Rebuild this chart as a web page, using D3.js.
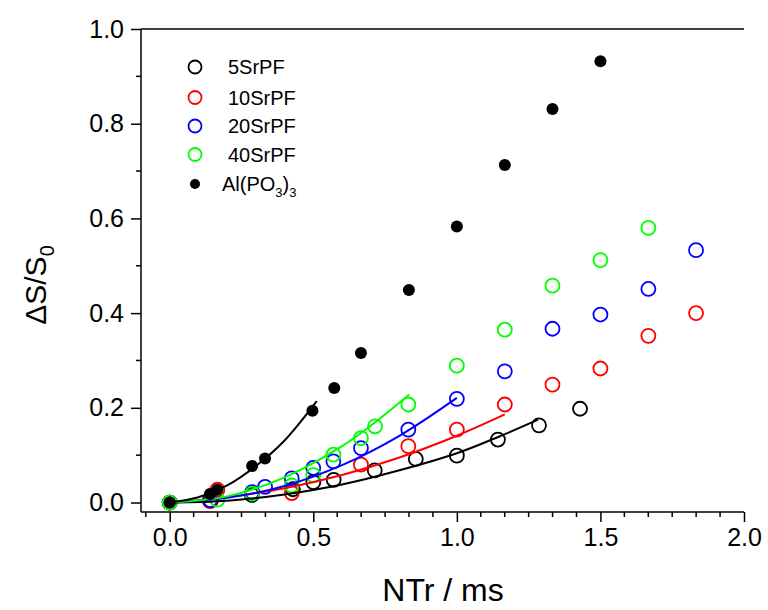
<!DOCTYPE html>
<html><head><meta charset="utf-8">
<script src="https://cdn.jsdelivr.net/npm/d3@7"></script>
<style>body{margin:0;background:#fff}svg{display:block;font-family:Arial,"Liberation Sans",sans-serif}</style>
</head><body>
<svg id="c" width="768" height="610"></svg>
<script>
// ---- data ----
const seriesNames = ["5SrPF", "10SrPF", "20SrPF", "40SrPF", "Al(PO3)3"];
const seriesColors = ["#000000", "#ff0000", "#0000ff", "#00ff00", "#000000"];

const s5x = [0, 0.143, 0.286, 0.429, 0.5, 0.571, 0.714, 0.857, 1.0, 1.143, 1.286, 1.429];
const s5y = [0, 0.004, 0.016, 0.028, 0.043, 0.048, 0.068, 0.092, 0.099, 0.133, 0.163, 0.198];

const s10x = [0, 0.14, 0.166, 0.425, 0.666, 0.831, 1.0, 1.167, 1.333, 1.5, 1.667, 1.833];
const s10y = [0, 0.003, 0.027, 0.020, 0.080, 0.119, 0.154, 0.207, 0.249, 0.283, 0.352, 0.400];

const s20x = [0, 0.14, 0.287, 0.332, 0.425, 0.5, 0.57, 0.666, 0.831, 1.0, 1.167, 1.333, 1.5, 1.667, 1.833];
const s20y = [0, 0.005, 0.022, 0.033, 0.051, 0.073, 0.087, 0.115, 0.154, 0.219, 0.277, 0.367, 0.397, 0.451, 0.533];

const s40x = [0, 0.166, 0.287, 0.425, 0.5, 0.57, 0.666, 0.715, 0.831, 1.0, 1.167, 1.333, 1.5, 1.667];
const s40y = [0, 0.006, 0.019, 0.036, 0.058, 0.101, 0.136, 0.161, 0.207, 0.289, 0.365, 0.458, 0.512, 0.580];

const alx = [0, 0.14, 0.166, 0.287, 0.332, 0.497, 0.573, 0.666, 0.833, 1.0, 1.167, 1.333, 1.5];
const aly = [0, 0.018, 0.027, 0.077, 0.093, 0.194, 0.242, 0.316, 0.449, 0.583, 0.713, 0.831, 0.932];

// fit curves
const fit5x = [0, 0.2, 0.4, 0.6, 0.8, 1.0, 1.15, 1.283];
const fit5y = [0, 0.004, 0.017, 0.038, 0.068, 0.104, 0.140, 0.175];
const fit10x = [0, 0.2, 0.4, 0.6, 0.8, 1.0, 1.167];
const fit10y = [0, 0.011, 0.030, 0.058, 0.095, 0.141, 0.186];
const fit20x = [0, 0.2, 0.4, 0.6, 0.8, 1.0];
const fit20y = [0, 0.010, 0.035, 0.079, 0.141, 0.221];
const fit40x = [0, 0.2, 0.4, 0.6, 0.7, 0.834];
const fit40y = [0, 0.013, 0.053, 0.119, 0.162, 0.228];
const fitAlx = [0, 0.1, 0.2, 0.3, 0.4, 0.512];
const fitAly = [0, 0.011, 0.036, 0.077, 0.131, 0.214];

const xTicks = [0, 0.5, 1.0, 1.5, 2.0];
const yTicks = [0, 0.2, 0.4, 0.6, 0.8, 1.0];

// ---- drawing ----
const svg = d3.select("#c");
const x = d3.scaleLinear().domain([-0.1, 2.0]).range([141, 744]);
const y = d3.scaleLinear().domain([-0.02, 1.0]).range([512, 29]);

const zip = (a, b) => a.map((v, i) => [v, b[i]]);
const line = d3.line().x(d => x(d[0])).y(d => y(d[1])).curve(d3.curveCatmullRom);

const fits = [
  [fit5x, fit5y, 0], [fit10x, fit10y, 1], [fit20x, fit20y, 2], [fit40x, fit40y, 3]
];
const pts = [[s5x, s5y, 0], [s10x, s10y, 1], [s20x, s20y, 2], [s40x, s40y, 3]];

// open circles
pts.forEach(([xs, ys, k]) => {
  svg.append("g").selectAll("circle").data(zip(xs, ys)).join("circle")
    .attr("cx", d => x(d[0])).attr("cy", d => y(d[1])).attr("r", 7)
    .attr("fill", "none").attr("stroke", seriesColors[k]).attr("stroke-width", 1.8);
});
// fit lines
fits.forEach(([xs, ys, k]) => {
  svg.append("path").attr("d", line(zip(xs, ys))).attr("fill", "none")
    .attr("stroke", seriesColors[k]).attr("stroke-width", 2);
});
svg.append("path").attr("d", line(zip(fitAlx, fitAly))).attr("fill", "none")
  .attr("stroke", "#000").attr("stroke-width", 2);
// filled dots
svg.append("g").selectAll("circle").data(zip(alx, aly)).join("circle")
  .attr("cx", d => x(d[0])).attr("cy", d => y(d[1])).attr("r", 6).attr("fill", "#000");

// axes
const xAxis = svg.append("g").attr("transform", `translate(0,${y(-0.02)})`)
  .call(d3.axisBottom(x).tickValues(xTicks).tickFormat(d3.format(".1f")).tickSize(10).tickPadding(6));
const xMinor = d3.range(-1, 25).map(i => i / 12).filter(v => v >= -0.1 && v <= 2.0 && Math.abs(v * 2 - Math.round(v * 2)) > 1e-6);
xAxis.selectAll(".minor").data(xMinor).join("line").attr("class", "minor")
  .attr("x1", d => x(d)).attr("x2", d => x(d)).attr("y1", 0).attr("y2", 5).attr("stroke", "#000").attr("stroke-width", 1.5);

const yAxis = svg.append("g").attr("transform", `translate(${x(-0.1)},0)`)
  .call(d3.axisLeft(y).tickValues(yTicks).tickFormat(d3.format(".1f")).tickSize(10).tickPadding(7));
const yMinor = [0.1, 0.3, 0.5, 0.7, 0.9];
yAxis.selectAll(".minor").data(yMinor).join("line").attr("class", "minor")
  .attr("y1", d => y(d)).attr("y2", d => y(d)).attr("x1", 0).attr("x2", -5).attr("stroke", "#000").attr("stroke-width", 1.5);

[xAxis, yAxis].forEach(g => {
  g.selectAll(".domain").attr("stroke", "#000").attr("stroke-width", 1.5)
    .attr("d", g === xAxis ? `M${x(-0.1)},0H${x(2.0)}` : `M0,${y(-0.02)}V${y(1.0)}`);
  g.selectAll(".tick line").attr("stroke", "#000").attr("stroke-width", 1.5);
  g.selectAll(".tick text").attr("font-size", 25).attr("fill", "#000")
    .attr("font-family", "Arial, 'Liberation Sans', sans-serif");
});
// top border
svg.append("line").attr("x1", x(-0.1)).attr("x2", x(2.0)).attr("y1", y(1.0)).attr("y2", y(1.0))
  .attr("stroke", "#000").attr("stroke-width", 1.5);

// axis titles
svg.append("text").attr("x", 443).attr("y", 601).attr("text-anchor", "middle")
  .attr("font-size", 32).text("NTr / ms");
const yt = svg.append("text").attr("transform", "translate(46,285) rotate(-90)").attr("text-anchor", "middle")
  .attr("font-size", 30);
yt.append("tspan").text("ΔS/S");
yt.append("tspan").attr("font-size", 20).attr("dy", 8).text("0");

// legend
const legY = [67, 97.5, 126, 154.5, 184];
seriesNames.forEach((n, i) => {
  if (i < 4) {
    svg.append("circle").attr("cx", 195).attr("cy", legY[i]).attr("r", 6.5)
      .attr("fill", "none").attr("stroke", seriesColors[i]).attr("stroke-width", 1.8);
  } else {
    svg.append("circle").attr("cx", 195).attr("cy", legY[i]).attr("r", 5).attr("fill", "#000");
  }
  const t = svg.append("text").attr("x", i === 4 ? 222 : 228).attr("y", legY[i] + 7).attr("font-size", 20);
  if (i < 4) t.text(n);
  else {
    t.append("tspan").text("Al(PO");
    t.append("tspan").attr("font-size", 13).attr("dy", 6).text("3");
    t.append("tspan").attr("dy", -6).text(")");
    t.append("tspan").attr("font-size", 13).attr("dy", 6).text("3");
  }
});
</script>
</body></html>
